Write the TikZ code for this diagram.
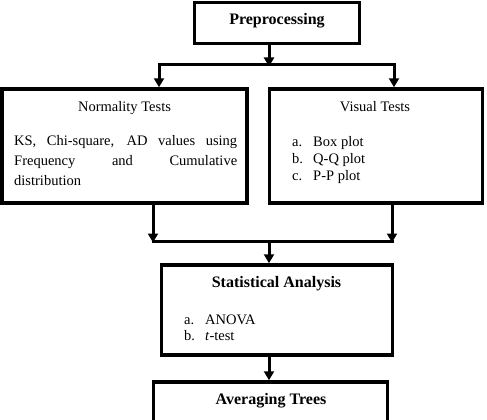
\documentclass[tikz,border=0pt]{standalone}
\usepackage{fontspec}
\setmainfont{Liberation Serif}
\usetikzlibrary{arrows.meta}
\tikzset{
  box/.style={draw=black, line width=3.5pt, fill=white, inner sep=0pt},
  conn/.style={line width=3pt, black},
  arr/.style={conn, -{Triangle[width=10pt,length=9pt]}, shorten >=0pt},
  title/.style={anchor=base, inner sep=0pt, font=\fontsize{16}{18}\selectfont\bfseries},
  sub/.style={anchor=base, inner sep=0pt, font=\fontsize{14.5}{18}\selectfont},
  txt/.style={anchor=base west, inner sep=0pt, font=\fontsize{14.5}{18}\selectfont},
}
\begin{document}
\begin{tikzpicture}[x=1pt,y=-1pt]
\useasboundingbox (0,0) rectangle (487,420);
% boxes
\node[box, minimum width=165pt, minimum height=41pt] (pre) at (277,23) {};
\node[box, minimum width=245pt, minimum height=114pt] (norm) at (124.5,146) {};
\node[box, minimum width=213pt, minimum height=114pt] (vis) at (376,146) {};
\node[box, minimum width=231pt, minimum height=90pt] (stat) at (277,310) {};
\node[box, minimum width=234pt, minimum height=80pt] (avg) at (270.5,422) {};
% texts
\node[title] (preT) at (277,25) {Preprocessing};
\node[sub] (normT) at (124.5,111) {Normality Tests};
\node[txt] (n1) at (14,145) {\makebox[223pt][s]{KS, Chi-square, AD values using}};
\node[txt] (n2) at (14,165) {\makebox[223pt][s]{Frequency and Cumulative}};
\node[txt] (n3) at (14,185) {distribution};
\node[sub] (visT) at (375,111) {Visual Tests};
\node[txt] (va) at (292,146) {a.};
\node[txt] (vat) at (313,146) {Box plot};
\node[txt] (vb) at (292,163) {b.};
\node[txt] (vbt) at (313,163) {Q-Q plot};
\node[txt] (vc) at (292,180) {c.};
\node[txt] (vct) at (313,180) {P-P plot};
\node[title] (statT) at (276.5,287) {Statistical Analysis};
\node[txt] (sa) at (184,324) {a.};
\node[txt] (sat) at (205,324) {ANOVA};
\node[txt] (sb) at (184,340) {b.};
\node[txt] (sbt) at (205,340) {\textit{t}-test};
\node[title] (avgT) at (271,404) {Averaging Trees};
% connectors
\coordinate (j1) at (269,65);
\coordinate (j1l) at (159,65);
\coordinate (j1r) at (394,65);
\draw[arr] (pre.south -| j1) -- ([yshift=-1.5pt]j1);
\draw[conn] ([xshift=-1.5pt]j1l) -- ([xshift=1.5pt]j1r);
\draw[arr] (j1l) -- (j1l |- norm.north);
\draw[arr] (j1r) -- (j1r |- vis.north);
\coordinate (j2) at (269,241);
\coordinate (j2l) at (153,241);
\coordinate (j2r) at (392,241);
\draw[arr] (j2l |- norm.south) -- ([yshift=-1.5pt]j2l);
\draw[arr] (j2r |- vis.south) -- ([yshift=-1.5pt]j2r);
\draw[conn] ([xshift=-1.5pt]j2l) -- ([xshift=1.5pt]j2r);
\draw[arr] (j2) -- (j2 |- stat.north);
\draw[arr] (stat.south -| j2) -- (j2 |- avg.north);
\end{tikzpicture}
\end{document}
